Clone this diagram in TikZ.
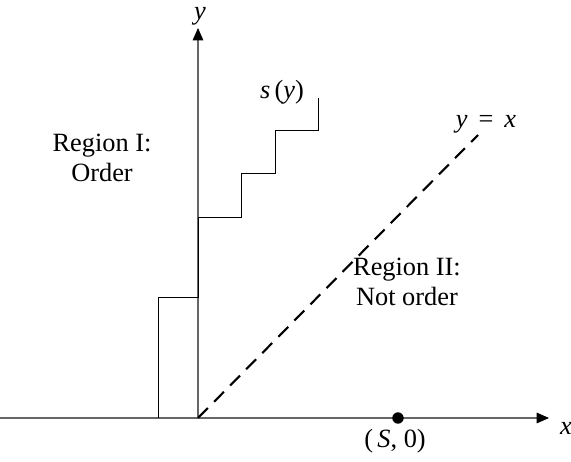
\documentclass[tikz,border=0pt]{standalone}
\usepackage{fontspec}
\setmainfont{Liberation Serif}
\usetikzlibrary{arrows.meta}
\begin{document}
\begin{tikzpicture}[x=0.02cm,y=-0.02cm,
  axis/.style={draw=black!60,line width=0.6pt,-{Triangle[length=7pt,width=6pt,black]}},
  stair/.style={draw=black,line width=0.5pt},
  diag/.style={draw=black,line width=1.2pt,dash pattern=on 8pt off 5pt},
  lbl/.style={font=\fontsize{15}{17.5}\selectfont,inner sep=0pt,align=center}]
\useasboundingbox (0,0) rectangle (571,462);
\coordinate (o) at (198,418);
\coordinate (xl) at (0,418);
\coordinate (xe) at (549,418);
\coordinate (ye) at (198,28);
\coordinate (de) at (478,135);
\draw[axis] (xl) -- (xe);
\draw[axis] (o) -- (ye);
\draw[stair] (158,418) -- (158,297) -- (198,297) -- (198,217) -- (241,217) -- (241,173) -- (275,173) -- (275,130) -- (318,130) -- (318,98);
\draw[diag] (o) -- (de);
\node[circle,fill=black,inner sep=0pt,minimum size=6.5pt] (dot) at (398,418) {};
\node[lbl] (xlab) at (566,428) {\textit{x}};
\node[lbl] (ylab) at (200,16) {\textit{y}};
\node[lbl] (slab) at (282,92) {\textit{s}\,(\textit{y})};
\node[lbl] (yx) at (486,124) {\textit{y}\ \,=\ \,\textit{x}};
\node[lbl] (S0) at (395,441) {(\,\textit{S},\ 0)};
\node[lbl] (r1) at (102,158) {Region I:\\Order};
\node[lbl] (r2) at (407,282) {Region II:\\Not order};
\end{tikzpicture}
\end{document}
